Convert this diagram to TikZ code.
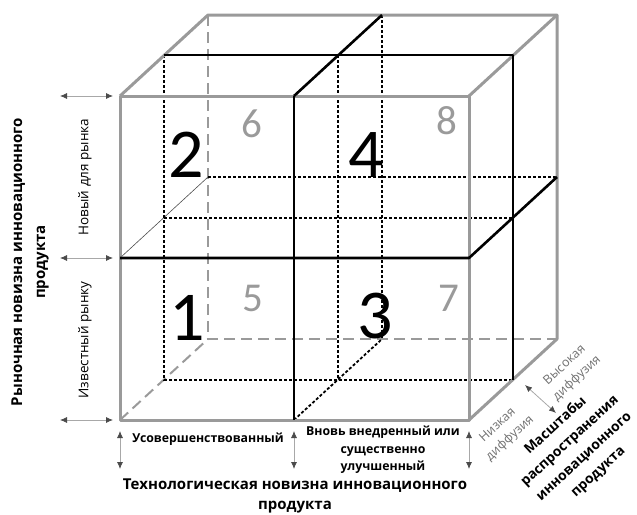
\documentclass[tikz,border=0pt]{standalone}
\usepackage{fontspec}
\setmainfont{Open Sans}
\newfontfamily\digitfont{Carlito}
\usetikzlibrary{arrows.meta}
\definecolor{CubeGray}{HTML}{9A9A9A}
\definecolor{LabelGray}{HTML}{707070}
\definecolor{GaugeLine}{HTML}{A8A8A8}
\definecolor{GaugeTip}{HTML}{4A4A4A}
\tikzset{
  frame/.style={draw=CubeGray, line width=3pt, line join=round},
  hidden/.style={draw=CubeGray, line width=2pt, dash pattern=on 11pt off 6pt},
  cutline/.style={draw=black, line width=2.6pt, line join=round},
  hiddencut/.style={draw=black, line width=1.8pt, dash pattern=on 3pt off 2pt},
  gauge/.style={draw=GaugeLine, line width=0.8pt,
    {Latex[length=7pt,width=6pt,color=GaugeTip]}-{Latex[length=7pt,width=6pt,color=GaugeTip]}},
  bignum/.style={font=\digitfont\fontsize{70}{70}\selectfont, inner sep=0pt},
  smallnum/.style={font=\digitfont\fontsize{41}{41}\selectfont, text=CubeGray, inner sep=0pt},
  axistitle/.style={font=\bfseries\fontsize{15}{20}\selectfont, align=center, inner sep=0pt},
  levelname/.style={font=\fontsize{13.5}{16}\selectfont, inner sep=0pt},
  techname/.style={font=\bfseries\fontsize{12.3}{17.5}\selectfont, align=center, inner sep=0pt},
  diffname/.style={font=\fontsize{12.5}{18}\selectfont, text=LabelGray, align=center, inner sep=0pt, rotate=42.6}
}

\begin{document}
\begin{tikzpicture}[x=1pt, y=-1pt]
  \useasboundingbox (0,0) rectangle (637,514);

  % front, middle and back planes
  \coordinate (f1) at (120,96);  \coordinate (f2) at (469,96);
  \coordinate (f3) at (469,420); \coordinate (f4) at (120,420);
  \coordinate (m1) at (164,55);  \coordinate (m2) at (513,55);
  \coordinate (m3) at (513,380); \coordinate (m4) at (164,380);
  \coordinate (b1) at (208,15);  \coordinate (b2) at (557,15);
  \coordinate (b3) at (557,339); \coordinate (b4) at (208,339);
  \coordinate (fl) at (120,258); \coordinate (fr) at (469,258);
  \coordinate (ft) at (294,96);  \coordinate (fb) at (294,420);
  \coordinate (ml) at (164,218); \coordinate (mr) at (513,218);
  \coordinate (mt) at (338,55);  \coordinate (mb) at (338,380);
  \coordinate (bl) at (208,177); \coordinate (br) at (557,177);
  \coordinate (bt) at (382,15);  \coordinate (bb) at (382,339);

  \draw[hidden] (b1) -- (b4) -- (b3);
  \draw[hidden] (f4) -- (b4);
  \draw[line width=0.6pt, draw=black!70] (fl) -- (bl);

  \draw[hiddencut] (m1) -- (m4) -- (m3);
  \draw[hiddencut] (ml) -- (mr);
  \draw[hiddencut] (bl) -- (br);
  \draw[hiddencut] (bt) -- (bb);
  \draw[hiddencut] (mt) -- (mb);
  \draw[hiddencut] (fb) -- (bb);

  \draw[frame] (f1) rectangle (f3);
  \draw[frame] (f1) -- (b1) -- (b2) -- (b3) -- (f3);
  \draw[frame] (f2) -- (b2);

  \draw[cutline] (m1) -- (m2) -- (m3);
  \draw[cutline] (ft) -- (fb);
  \draw[cutline] (ft) -- (bt);
  \draw[cutline] (fl) -- (fr) -- (br);

  % segment numbers
  \node[bignum] (n2) at (186,155) {2};
  \node[smallnum] (n6) at (252,124) {6};
  \node[bignum] (n4) at (366,155) {4};
  \node[smallnum] (n8) at (447,121) {8};
  \node[bignum] (n1) at (187,318) {1};
  \node[smallnum] (n5) at (253,298) {5};
  \node[bignum] (n3) at (375,316) {3};
  \node[smallnum] (n7) at (449,298) {7};

  % market novelty
  \coordinate (la1) at (60,96);  \coordinate (lb1) at (113,96);
  \coordinate (la2) at (60,258); \coordinate (lb2) at (113,258);
  \coordinate (la3) at (60,420); \coordinate (lb3) at (113,420);
  \draw[gauge] (la1) -- (lb1);
  \draw[gauge] (la2) -- (lb2);
  \draw[gauge] (la3) -- (lb3);
  \node[levelname, rotate=90] (new) at (85,177) {Новый для рынка};
  \node[levelname, rotate=90] (known) at (85,340) {Известный рынку};
  \node[axistitle, rotate=90, font=\bfseries\fontsize{15}{23}\selectfont] (market) at (30,262) {Рыночная новизна инновационного\\продукта};

  % technological novelty
  \coordinate (ua1) at (120,431); \coordinate (ub1) at (120,469);
  \coordinate (ua2) at (294,431); \coordinate (ub2) at (294,469);
  \coordinate (ua3) at (469,431); \coordinate (ub3) at (469,469);
  \draw[gauge] (ua1) -- (ub1);
  \draw[gauge] (ua2) -- (ub2);
  \draw[gauge] (ua3) -- (ub3);
  \node[techname] (improved) at (208,439) {Усовершенствованный};
  \node[techname] (newly) at (383,450) {Вновь внедренный или\\существенно\\улучшенный};
  \node[axistitle] (tech) at (295,496) {Технологическая новизна инновационного\\продукта};

  % diffusion scale
  \coordinate (da) at (525,385); \coordinate (db) at (556,413);
  \draw[gauge] (da) -- (db);
  \node[diffname] (low) at (504,432) {Низкая\\диффузия};
  \node[diffname] (high) at (571,372) {Высокая\\диффузия};
  \node[axistitle, rotate=42.6, font=\bfseries\fontsize{13.8}{21}\selectfont] (spread) at (577,449) {Масштабы\\распространения\\инновационного\\продукта};
\end{tikzpicture}
\end{document}
